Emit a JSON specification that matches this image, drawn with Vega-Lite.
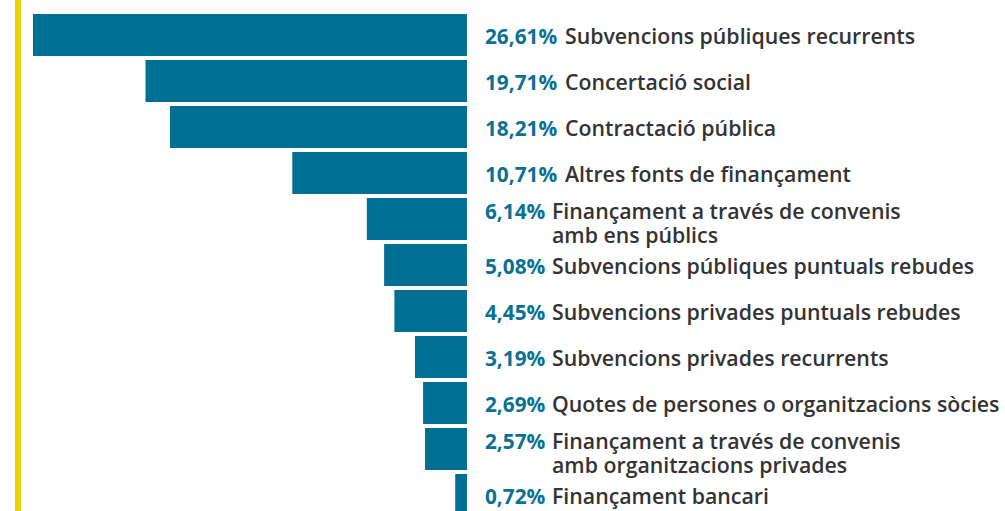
{
  "$schema": "https://vega.github.io/schema/vega-lite/v6.json",
  "width": 1005,
  "height": 511,
  "padding": 0,
  "autosize": {"type": "none"},
  "background": "white",
  "config": {"view": {"stroke": null}},
  "data": {
    "values": [
      {"cat": "Subvencions públiques recurrents", "pct": "26,61%", "value": 26.61},
      {"cat": "Concertació social", "pct": "19,71%", "value": 19.71},
      {"cat": "Contractació pública", "pct": "18,21%", "value": 18.21},
      {"cat": "Altres fonts de finançament", "pct": "10,71%", "value": 10.71},
      {"cat": "Finançament a través de convenis\namb ens públics", "pct": "6,14%", "value": 6.14},
      {"cat": "Subvencions públiques puntuals rebudes", "pct": "5,08%", "value": 5.08},
      {"cat": "Subvencions privades puntuals rebudes", "pct": "4,45%", "value": 4.45},
      {"cat": "Subvencions privades recurrents", "pct": "3,19%", "value": 3.19},
      {"cat": "Quotes de persones o organitzacions sòcies", "pct": "2,69%", "value": 2.69},
      {"cat": "Finançament a través de convenis\namb organitzacions privades", "pct": "2,57%", "value": 2.57},
      {"cat": "Finançament bancari", "pct": "0,72%", "value": 0.72}
    ]
  },
  "layer": [
    {
      "data": {"values": [{}]},
      "mark": {"type": "rule", "color": "#F0D000", "strokeWidth": 6},
      "encoding": {
        "x": {"datum": 27.53, "type": "quantitative", "scale": {"domain": [-32.99, 28.633], "reverse": true, "nice": false, "zero": false}, "axis": null}
      }
    },
    {
      "mark": {"type": "bar", "color": "#006F94"},
      "encoding": {
        "y": {"field": "cat", "type": "nominal", "sort": {"field": "value", "order": "descending"}, "axis": null, "scale": {"range": [12, 518], "paddingInner": 0.087, "paddingOuter": 0.0435}},
        "x": {"field": "value", "type": "quantitative", "scale": {"domain": [-32.99, 28.633], "reverse": true, "nice": false, "zero": false}, "axis": null},
        "x2": {"datum": 0}
      }
    },
    {
      "transform": [{"filter": "!test(/\\n/, datum.cat)"}],
      "mark": {"type": "text", "align": "left", "baseline": "middle", "dx": 18, "dy": 2.5, "font": "Open Sans", "fontWeight": "bold", "fontSize": 20.8, "color": "#0B7193"},
      "encoding": {
        "y": {"field": "cat", "type": "nominal", "sort": {"field": "value", "order": "descending"}, "axis": null},
        "x": {"datum": 0, "type": "quantitative"},
        "text": {"field": "pct"}
      }
    },
    {
      "transform": [{"filter": "test(/\\n/, datum.cat)"}],
      "mark": {"type": "text", "align": "left", "baseline": "middle", "dx": 18, "dy": -6, "font": "Open Sans", "fontWeight": "bold", "fontSize": 20.8, "color": "#0B7193"},
      "encoding": {
        "y": {"field": "cat", "type": "nominal", "sort": {"field": "value", "order": "descending"}, "axis": null},
        "x": {"datum": 0, "type": "quantitative"},
        "text": {"field": "pct"}
      }
    },
    {
      "transform": [{"filter": "datum.value >= 10"}],
      "mark": {"type": "text", "align": "left", "baseline": "middle", "dx": 98, "dy": 2.5, "font": "Open Sans", "fontWeight": 600, "fontSize": 21.3, "color": "#333333"},
      "encoding": {
        "y": {"field": "cat", "type": "nominal", "sort": {"field": "value", "order": "descending"}, "axis": null},
        "x": {"datum": 0, "type": "quantitative"},
        "text": {"field": "cat"}
      }
    },
    {
      "transform": [{"filter": "datum.value < 10 && !test(/\\n/, datum.cat)"}],
      "mark": {"type": "text", "align": "left", "baseline": "middle", "dx": 85, "dy": 2.5, "font": "Open Sans", "fontWeight": 600, "fontSize": 21.3, "color": "#333333"},
      "encoding": {
        "y": {"field": "cat", "type": "nominal", "sort": {"field": "value", "order": "descending"}, "axis": null},
        "x": {"datum": 0, "type": "quantitative"},
        "text": {"field": "cat"}
      }
    },
    {
      "transform": [{"filter": "test(/\\n/, datum.cat)"}],
      "mark": {"type": "text", "align": "left", "baseline": "middle", "dx": 85, "dy": -6, "font": "Open Sans", "fontWeight": 600, "fontSize": 21.3, "color": "#333333", "lineBreak": "\n", "lineHeight": 24},
      "encoding": {
        "y": {"field": "cat", "type": "nominal", "sort": {"field": "value", "order": "descending"}, "axis": null},
        "x": {"datum": 0, "type": "quantitative"},
        "text": {"field": "cat"}
      }
    }
  ]
}
